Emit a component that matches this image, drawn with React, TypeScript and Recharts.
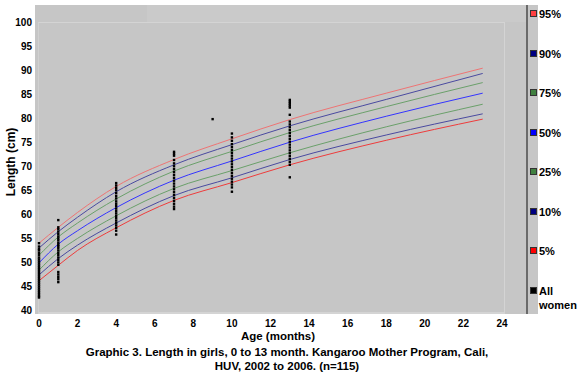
import { ComposedChart, Line, Scatter, XAxis, YAxis, Legend } from "recharts"

// ages (months) where the percentile curves were read
const ages = [0, 1, 2, 4, 7, 10, 13, 18, 23]
const p95 = [54.0, 57.3, 60.4, 65.8, 71.4, 75.7, 79.7, 85.2, 90.4]
const p90 = [53.0, 56.4, 59.4, 64.7, 70.3, 74.5, 78.4, 83.9, 89.3]
const p75 = [51.5, 55.3, 58.2, 63.2, 69.0, 73.1, 77.0, 82.4, 87.4]
const p50 = [49.9, 53.8, 56.6, 61.4, 67.1, 71.1, 75.0, 80.4, 85.2]
const p25 = [48.4, 52.2, 55.0, 59.7, 65.4, 69.1, 72.8, 78.2, 82.9]
const p10 = [47.4, 50.8, 53.6, 58.2, 63.9, 67.6, 71.4, 76.5, 80.9]
const p5 = [46.2, 49.4, 52.5, 57.2, 62.9, 66.6, 70.3, 75.4, 79.8]

// measured lengths of the girls, by visit age
const len0 = [54.0, 53.3, 52.8, 52.5, 52.0, 51.5, 51.0, 50.6, 50.2, 49.8, 49.4, 49.0, 48.6, 48.2, 47.8, 47.4, 47.0, 46.6, 46.2, 45.8, 45.4, 45.0, 44.6, 44.2, 43.8, 43.4, 43.0, 42.7]
const len1 = [58.8, 57.3, 56.9, 56.4, 55.9, 55.4, 55.0, 54.6, 54.1, 53.7, 53.4, 53.0, 52.5, 52.0, 51.5, 51.0, 50.5, 50.0, 49.5, 48.0, 47.5, 47.0, 46.5, 45.9]
const len4 = [66.5, 66.0, 65.5, 65.0, 64.4, 63.8, 63.3, 62.7, 62.2, 61.7, 61.2, 60.7, 60.2, 59.7, 59.2, 58.7, 58.2, 57.7, 57.2, 56.6, 55.8]
const len7 = [73.0, 72.6, 72.2, 71.3, 70.6, 70.0, 69.4, 68.8, 68.2, 67.6, 67.0, 66.4, 65.8, 65.2, 64.6, 64.0, 63.4, 62.8, 62.2, 61.6, 61.1]
const len9 = [79.8]
const len10 = [76.8, 76.0, 75.3, 74.6, 74.0, 73.4, 72.8, 72.2, 71.6, 71.0, 70.4, 69.8, 69.2, 68.6, 68.0, 67.4, 66.8, 66.2, 65.6, 64.7]
const len13 = [83.8, 83.4, 83.0, 82.6, 82.2, 80.7, 79.3, 78.7, 78.1, 77.5, 76.9, 76.3, 75.7, 75.1, 74.5, 73.9, 73.3, 72.7, 72.1, 71.5, 70.9, 70.3, 67.7]

const xTicks = [0, 2, 4, 6, 8, 10, 12, 14, 16, 18, 20, 22, 24]
const yTicks = [40, 45, 50, 55, 60, 65, 70, 75, 80, 85, 90, 95, 100]

const series = [
  { key: "p95", name: "95%", stroke: "#ee7474", legend: "#ff4040" },
  { key: "p90", name: "90%", stroke: "#4a4aa0", legend: "#000080" },
  { key: "p75", name: "75%", stroke: "#6aa06a", legend: "#408040" },
  { key: "p50", name: "50%", stroke: "#3434ff", legend: "#0000ff" },
  { key: "p25", name: "25%", stroke: "#6aa06a", legend: "#408040" },
  { key: "p10", name: "10%", stroke: "#4a4aa0", legend: "#000080" },
  { key: "p5", name: "5%", stroke: "#ee3c3c", legend: "#ff0000" },
]

const curves = ages.map((age, i) => ({
  age,
  p95: p95[i],
  p90: p90[i],
  p75: p75[i],
  p50: p50[i],
  p25: p25[i],
  p10: p10[i],
  p5: p5[i],
}))

const visits: [number, number[]][] = [
  [0, len0],
  [1, len1],
  [4, len4],
  [7, len7],
  [9, len9],
  [10, len10],
  [13, len13],
]
const points = visits.flatMap(([age, lens]) => lens.map((len) => ({ age, len })))

const FONT = "Arial, 'Liberation Sans', sans-serif"

function Dot({ cx, cy }: any) {
  if (cx == null || cy == null) return null
  return <rect x={cx - 1.2} y={cy - 1.2} width={2.4} height={2.4} fill="#000" />
}

function LegendBox() {
  const items = [...series.map((s) => ({ name: s.name, color: s.legend })), { name: "All women", color: "#000" }]
  return (
    <div style={{ position: "relative", width: 51, height: 320, fontFamily: FONT }}>
      {items.map((it, i) => {
        const cy = 14 + i * 39.5
        const two = it.name === "All women"
        return (
          <div key={it.name}>
            <div
              style={{
                position: "absolute",
                left: 2,
                top: cy - 4,
                width: 5,
                height: 5,
                background: it.color,
                border: "1px solid #333",
              }}
            />
            <div
              style={{
                position: "absolute",
                left: 11,
                top: cy - 7,
                fontSize: 11,
                fontWeight: "bold",
                lineHeight: "14px",
                color: "#000",
                whiteSpace: "nowrap",
              }}
            >
              {two ? (
                <>
                  All
                  <br />
                  women
                </>
              ) : (
                it.name
              )}
            </div>
          </div>
        )
      })}
    </div>
  )
}

export default function App() {
  return (
    <div style={{ position: "relative", width: 579, height: 376, background: "#fff", fontFamily: FONT }}>
      <style>{"body{margin:0}"}</style>
      {/* chart panel */}
      <div style={{ position: "absolute", left: 35, top: 5, width: 491, height: 309, background: "#c6c6c6" }} />
      <div style={{ position: "absolute", left: 147, top: 5, width: 379, height: 17, background: "#cacaca" }} />
      <div
        style={{
          position: "absolute",
          left: 38,
          top: 22,
          width: 465,
          height: 289,
          borderTop: "1px solid #d4d4d4",
          borderLeft: "1px solid #d0d0d0",
          borderRight: "1px solid #d4d4d4",
          borderBottom: "2px solid #d4d4d4",
        }}
      />
      <div style={{ position: "absolute", left: 526, top: 5, width: 2, height: 309, background: "#6a6a6a" }} />
      <div style={{ position: "absolute", left: 528, top: 5, width: 10, height: 309, background: "#c6c6c6" }} />

      <div style={{ position: "absolute", left: 0, top: 0 }}>
        <ComposedChart width={579} height={376} data={curves} margin={{ top: 22, right: 77, bottom: 35.5, left: 0 }}>
          <XAxis
            type="number"
            dataKey="age"
            domain={[0, 24]}
            ticks={xTicks}
            interval={0}
            height={30}
            axisLine={false}
            tickLine={false}
            tickSize={6}
            tickMargin={3}
            tick={{ fontSize: 10, fontWeight: "bold", fill: "#000", fontFamily: FONT }}
            label={{
              value: "Age (months)",
              content: () => (
                <text x={278} y={340} textAnchor="middle" fontSize={11.5} fontWeight="bold" fill="#000" fontFamily={FONT}>
                  Age (months)
                </text>
              ),
            }}
          />
          <YAxis
            type="number"
            domain={[40, 100]}
            ticks={yTicks}
            interval={0}
            width={39}
            axisLine={false}
            tickLine={false}
            tickSize={6}
            tickMargin={1}
            tick={{ fontSize: 10, fontWeight: "bold", fill: "#000", fontFamily: FONT }}
            label={{
              value: "Length (cm)",
              content: () => (
                <text
                  x={15}
                  y={162}
                  transform="rotate(-90 15 162)"
                  textAnchor="middle"
                  fontSize={12}
                  fontWeight="bold"
                  fill="#000"
                  fontFamily={FONT}
                >
                  Length (cm)
                </text>
              ),
            }}
          />
          <Legend
            layout="vertical"
            align="center"
            verticalAlign="middle"
            content={() => <LegendBox />}
            wrapperStyle={{ position: "absolute", left: 528, top: 0, width: 51, height: 320 }}
          />
          {series.map((s) => (
            <Line
              key={s.key}
              type="monotone"
              dataKey={s.key}
              name={s.name}
              stroke={s.stroke}
              strokeWidth={1}
              dot={false}
              activeDot={false}
              isAnimationActive={false}
            />
          ))}
          <Scatter data={points} dataKey="len" name="All women" fill="#000" shape={<Dot />} isAnimationActive={false} />
        </ComposedChart>
      </div>

      <div
        style={{
          position: "absolute",
          left: 0,
          top: 345,
          width: 574,
          textAlign: "center",
          fontSize: 11.5,
          fontWeight: "bold",
          lineHeight: "14px",
          color: "#000",
        }}
      >
        Graphic 3. Length in girls, 0 to 13 month. Kangaroo Mother Program, Cali,
        <br />
        HUV, 2002 to 2006. (n=115)
      </div>
    </div>
  )
}
